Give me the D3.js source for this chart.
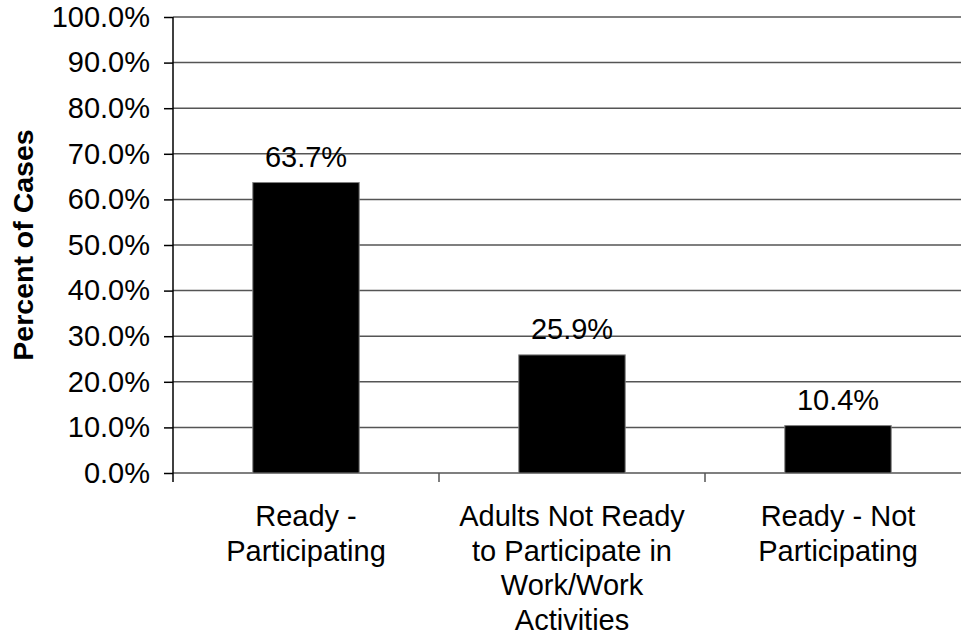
<!DOCTYPE html>
<html><head><meta charset="utf-8">
<script src="https://cdn.jsdelivr.net/npm/d3@7"></script>
<style>html,body{margin:0;padding:0;background:#fff;}svg{display:block;font-family:Arial,"Liberation Sans",sans-serif;}</style>
</head><body>
<svg id="c" width="961" height="635"></svg>
<script>
const categories = [
  ["Ready -", "Participating"],
  ["Adults Not Ready", "to Participate in", "Work/Work", "Activities"],
  ["Ready - Not", "Participating"]
];
const values = [63.7, 25.9, 10.4];
const valueLabels = ["63.7%", "25.9%", "10.4%"];
const yTicks = [0, 10, 20, 30, 40, 50, 60, 70, 80, 90, 100];
const yTickLabels = ["0.0%","10.0%","20.0%","30.0%","40.0%","50.0%","60.0%","70.0%","80.0%","90.0%","100.0%"];
const yTitle = "Percent of Cases";

const svg = d3.select("#c");
const pL = 173, pR = 971, pT = 17, pB = 473;
const fs = 29;

const x = d3.scaleBand().domain(d3.range(categories.length)).range([pL, pR]).paddingInner(0.6).paddingOuter(0.3);
const xb = d3.scaleLinear().domain([0, categories.length]).range([pL, pR]);
const y = d3.scaleLinear().domain([0, 100]).range([pB, pT]);

// gridlines
svg.append("g").selectAll("line").data(yTicks).join("line")
  .attr("x1", pL).attr("x2", pR)
  .attr("y1", d => y(d)).attr("y2", d => y(d))
  .attr("stroke", "#555").attr("stroke-width", 1.5);

// bars
svg.append("g").selectAll("rect").data(values).join("rect")
  .attr("x", (d, i) => x(i)).attr("width", x.bandwidth())
  .attr("y", d => y(d)).attr("height", d => y(0) - y(d))
  .attr("fill", "#000").attr("stroke", "#808080").attr("stroke-width", 1);

// y axis
const yAxis = d3.axisLeft(y).tickValues(yTicks).tickFormat((d, i) => yTickLabels[i]).tickSize(9).tickPadding(14);
const gy = svg.append("g").attr("transform", `translate(${pL},0)`).call(yAxis);
gy.select(".domain").attr("stroke", "#000").attr("stroke-width", 1.5).attr("d", `M0,${pT}V${pB + 9}`);
gy.selectAll(".tick line").attr("stroke", "#000").attr("stroke-width", 1.5);
gy.selectAll(".tick text").attr("font-size", fs).attr("fill", "#000").attr("font-family", "Arial, 'Liberation Sans', sans-serif");

// x axis ticks at category boundaries
svg.append("g").selectAll("line").data(d3.range(1, categories.length + 1)).join("line")
  .attr("x1", d => xb(d)).attr("x2", d => xb(d))
  .attr("y1", pB).attr("y2", pB + 9)
  .attr("stroke", "#555").attr("stroke-width", 1.5);

// category labels
const cl = svg.append("g").selectAll("text").data(categories).join("text")
  .attr("text-anchor", "middle").attr("font-size", fs).attr("fill", "#000")
  .attr("transform", (d, i) => `translate(${x(i) + x.bandwidth() / 2},526)`);
cl.selectAll("tspan").data(d => d).join("tspan")
  .attr("x", 0).attr("y", (d, j) => j * 34.7).text(d => d);

// value labels
svg.append("g").selectAll("text").data(values).join("text")
  .attr("x", (d, i) => x(i) + x.bandwidth() / 2)
  .attr("y", d => y(d) - 16)
  .attr("text-anchor", "middle").attr("font-size", fs).attr("fill", "#000")
  .text((d, i) => valueLabels[i]);

// y title
svg.append("text")
  .attr("transform", `translate(33,${(pT + pB) / 2}) rotate(-90)`)
  .attr("text-anchor", "middle").attr("font-size", 28.5).attr("font-weight", "bold").attr("fill", "#000")
  .text(yTitle);
</script>
</body></html>
